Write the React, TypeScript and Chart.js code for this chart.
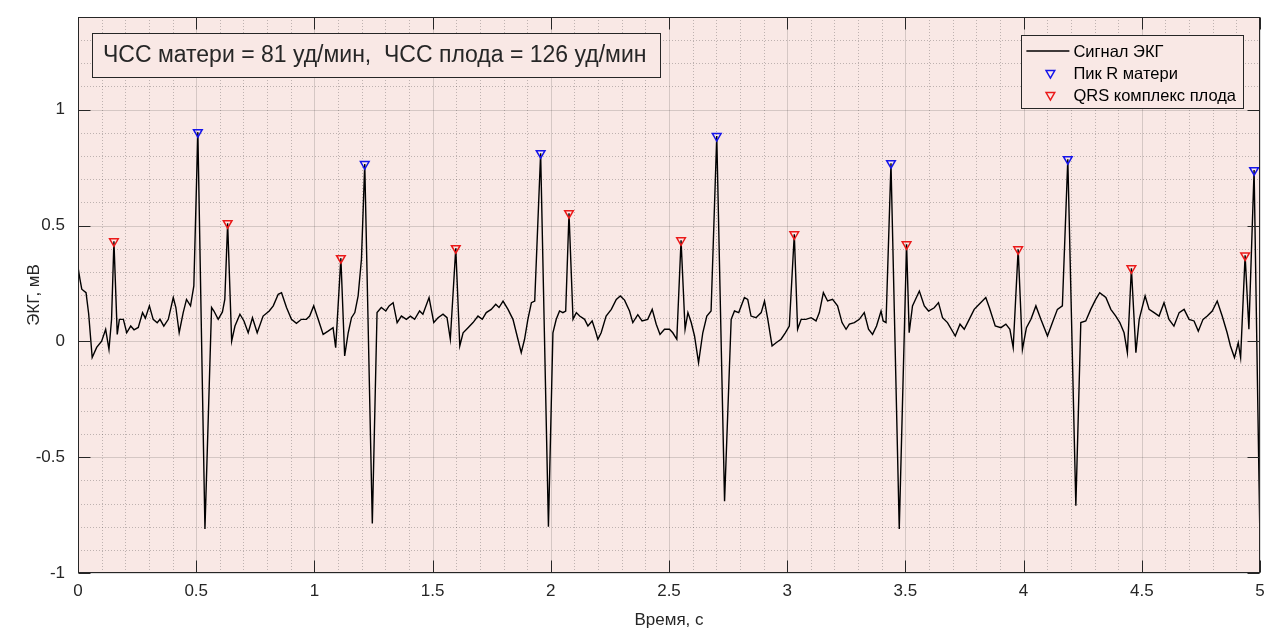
import React, { useEffect, useRef } from "react";
import { Chart, registerables } from "chart.js";

Chart.register(...registerables);

// ---------- data ----------
const timeS: number[] = [
  0.0, 0.008, 0.016, 0.034, 0.045, 0.06, 0.079, 0.1, 0.117, 0.131, 0.142, 0.152, 0.166, 0.175, 0.192,
  0.206, 0.223, 0.237, 0.255, 0.273, 0.285, 0.302, 0.318, 0.335, 0.347, 0.363, 0.382, 0.403, 0.414,
  0.428, 0.445, 0.459, 0.476, 0.49, 0.507, 0.537, 0.565, 0.575, 0.593, 0.611, 0.621, 0.633, 0.65,
  0.664, 0.685, 0.702, 0.72, 0.738, 0.758, 0.783, 0.809, 0.826, 0.847, 0.861, 0.882, 0.903, 0.924,
  0.945, 0.966, 0.98, 0.997, 1.016, 1.037, 1.058, 1.079, 1.09, 1.112, 1.128, 1.143, 1.157, 1.171,
  1.185, 1.199, 1.213, 1.245, 1.265, 1.283, 1.302, 1.316, 1.333, 1.35, 1.368, 1.389, 1.406, 1.424,
  1.445, 1.459, 1.485, 1.505, 1.523, 1.544, 1.561, 1.575, 1.598, 1.615, 1.629, 1.65, 1.671, 1.692,
  1.71, 1.727, 1.748, 1.767, 1.781, 1.798, 1.819, 1.84, 1.861, 1.875, 1.889, 1.903, 1.918, 1.932,
  1.957, 1.99, 2.009, 2.023, 2.037, 2.051, 2.063, 2.077, 2.094, 2.108, 2.122, 2.143, 2.157, 2.175,
  2.189, 2.199, 2.213, 2.234, 2.256, 2.277, 2.294, 2.312, 2.333, 2.347, 2.368, 2.386, 2.41, 2.429,
  2.446, 2.462, 2.481, 2.502, 2.516, 2.533, 2.551, 2.568, 2.58, 2.594, 2.608, 2.625, 2.643, 2.66,
  2.678, 2.702, 2.735, 2.763, 2.777, 2.795, 2.819, 2.833, 2.847, 2.868, 2.89, 2.904, 2.918, 2.936,
  2.953, 2.974, 2.992, 3.009, 3.03, 3.044, 3.059, 3.079, 3.101, 3.122, 3.136, 3.153, 3.171, 3.192,
  3.213, 3.232, 3.249, 3.263, 3.284, 3.305, 3.326, 3.344, 3.361, 3.378, 3.397, 3.406, 3.418, 3.439,
  3.474, 3.505, 3.516, 3.53, 3.559, 3.58, 3.598, 3.622, 3.64, 3.657, 3.678, 3.711, 3.731, 3.749,
  3.77, 3.791, 3.812, 3.84, 3.855, 3.88, 3.904, 3.925, 3.942, 3.956, 3.977, 3.995, 4.012, 4.031,
  4.052, 4.073, 4.101, 4.122, 4.143, 4.164, 4.187, 4.221, 4.242, 4.263, 4.284, 4.305, 4.322, 4.348,
  4.369, 4.39, 4.407, 4.425, 4.439, 4.456, 4.475, 4.489, 4.514, 4.531, 4.552, 4.573, 4.594, 4.615,
  4.636, 4.658, 4.679, 4.7, 4.721, 4.739, 4.759, 4.777, 4.798, 4.819, 4.84, 4.861, 4.875, 4.892,
  4.908, 4.918, 4.937, 4.953, 4.975, 5.0,
];

const ecgMv: number[] = [
  0.32, 0.27, 0.225, 0.21, 0.12, -0.07, -0.026, 0.001, 0.052, -0.035, 0.095, 0.432, 0.03, 0.095, 0.095,
  0.037, 0.066, 0.05, 0.06, 0.124, 0.1, 0.153, 0.095, 0.08, 0.095, 0.066, 0.095, 0.189, 0.146,
  0.037, 0.124, 0.181, 0.153, 0.239, 0.903, -0.81, 0.146, 0.131, 0.095, 0.127, 0.181, 0.51, 0.001,
  0.066, 0.117, 0.088, 0.037, 0.102, 0.037, 0.109, 0.131, 0.153, 0.203, 0.21, 0.146, 0.095, 0.078,
  0.095, 0.095, 0.109, 0.153, 0.095, 0.03, 0.044, 0.059, -0.027, 0.359, -0.063, 0.037, 0.102, 0.124,
  0.196, 0.354, 0.765, -0.786, 0.124, 0.146, 0.131, 0.153, 0.167, 0.081, 0.109, 0.095, 0.109, 0.095,
  0.131, 0.117, 0.189, 0.081, 0.102, 0.117, 0.102, 0.009, 0.402, -0.02, 0.037, 0.059, 0.081, 0.109,
  0.095, 0.124, 0.138, 0.16, 0.146, 0.174, 0.138, 0.095, 0.009, -0.049, 0.009, 0.095, 0.167, 0.174,
  0.812, -0.8, 0.037, 0.095, 0.131, 0.124, 0.131, 0.553, 0.095, 0.124, 0.109, 0.095, 0.066, 0.088,
  0.044, 0.009, 0.037, 0.109, 0.138, 0.181, 0.196, 0.178, 0.131, 0.081, 0.115, 0.088, 0.095, 0.138,
  0.074, 0.03, 0.052, 0.052, 0.037, 0.009, 0.436, 0.052, 0.124, 0.081, 0.023, -0.092, 0.037, 0.109,
  0.131, 0.886, -0.69, 0.095, 0.131, 0.124, 0.189, 0.181, 0.109, 0.102, 0.124, 0.174, 0.095, -0.02,
  -0.006, 0.009, 0.037, 0.066, 0.462, 0.052, 0.095, 0.095, 0.102, 0.088, 0.124, 0.21, 0.174, 0.181,
  0.153, 0.081, 0.052, 0.074, 0.081, 0.095, 0.124, 0.052, 0.03, 0.066, 0.131, 0.088, 0.081, 0.769,
  -0.81, 0.419, 0.037, 0.153, 0.217, 0.153, 0.131, 0.145, 0.167, 0.102, 0.081, 0.023, 0.074, 0.052,
  0.095, 0.138, 0.16, 0.189, 0.146, 0.066, 0.059, 0.074, 0.052, -0.027, 0.397, -0.035, 0.059, 0.095,
  0.153, 0.095, 0.023, 0.081, 0.138, 0.153, 0.786, -0.71, 0.081, 0.088, 0.138, 0.181, 0.21, 0.189,
  0.138, 0.109, 0.081, 0.037, -0.049, 0.315, -0.049, 0.095, 0.196, 0.138, 0.124, 0.109, 0.167, 0.095,
  0.066, 0.124, 0.138, 0.095, 0.088, 0.044, 0.095, 0.109, 0.131, 0.174, 0.109, 0.037, -0.02, -0.07,
  -0.006, -0.07, 0.371, 0.052, 0.739, -0.87,
];

const maternalPeakT: number[] = [0.507, 1.213, 1.957, 2.702, 3.439, 4.187, 4.975];
const maternalPeakV: number[] = [0.903, 0.765, 0.812, 0.886, 0.769, 0.786, 0.739];

const fetalPeakT: number[] = [0.152, 0.633, 1.112, 1.598, 2.077, 2.551, 3.03, 3.505, 3.977, 4.456, 4.937];
const fetalPeakV: number[] = [0.432, 0.51, 0.359, 0.402, 0.553, 0.436, 0.462, 0.419, 0.397, 0.315, 0.371];

const xTicks: number[] = [0, 0.5, 1, 1.5, 2, 2.5, 3, 3.5, 4, 4.5, 5];
const yTicks: number[] = [-1, -0.5, 0, 0.5, 1];
const xRange: number[] = [0, 5];
const yRange: number[] = [-1, 1.4];
const minorStep = 0.1;

const maternalHR = 81;
const fetalHR = 126;

const seriesLabels: string[] = ["Сигнал ЭКГ", "Пик R матери", "QRS комплекс плода"];
const xTitle = "Время, с";
const yTitle = "ЭКГ, мВ";

// ---------- styles ----------
const FONT = '"Liberation Sans", Arial, Helvetica, sans-serif';
const PINK = "rgb(249,232,229)";
const AXIS = "#262626";
const BLUE = "rgb(20,20,235)";
const RED = "rgb(235,25,25)";

const crisp = (v: number) => Math.round(v) + 0.5;

function downTriangle(ctx: CanvasRenderingContext2D, x: number, y: number, r: number, color: string) {
  ctx.save();
  ctx.setLineDash([]);
  ctx.strokeStyle = color;
  ctx.lineWidth = 1.5;
  ctx.beginPath();
  ctx.moveTo(x, y + r);
  ctx.lineTo(x + r * Math.sin(Math.PI / 3), y - r / 2);
  ctx.lineTo(x - r * Math.sin(Math.PI / 3), y - r / 2);
  ctx.closePath();
  ctx.stroke();
  ctx.restore();
}

const matlabPlugin = {
  id: "matlabAxes",
  beforeDraw(chart: any) {
    const { ctx, chartArea: a, scales } = chart;
    const xs = scales.x;
    const ys = scales.y;
    ctx.save();
    ctx.fillStyle = "#ffffff";
    ctx.fillRect(0, 0, chart.width, chart.height);
    ctx.fillStyle = PINK;
    ctx.fillRect(a.left, a.top, a.right - a.left, a.bottom - a.top);

    // minor dotted grid
    ctx.strokeStyle = "rgba(38,38,38,0.28)";
    ctx.lineWidth = 1;
    ctx.setLineDash([1, 2]);
    ctx.beginPath();
    const isMajor = (v: number, ticks: number[]) => ticks.some((t) => Math.abs(t - v) < 1e-6);
    for (let k = Math.ceil(xRange[0] / minorStep); k <= Math.floor(xRange[1] / minorStep); k++) {
      const v = k * minorStep;
      if (isMajor(v, xTicks)) continue;
      const px = crisp(xs.getPixelForValue(v));
      ctx.moveTo(px, a.top);
      ctx.lineTo(px, a.bottom);
    }
    for (let k = Math.ceil(yRange[0] / minorStep - 1e-9); k <= Math.floor(yRange[1] / minorStep + 1e-9); k++) {
      const v = k * minorStep;
      if (isMajor(v, yTicks)) continue;
      const py = crisp(ys.getPixelForValue(v));
      ctx.moveTo(a.left, py);
      ctx.lineTo(a.right, py);
    }
    ctx.stroke();

    // major grid
    ctx.setLineDash([]);
    ctx.strokeStyle = "rgba(38,38,38,0.17)";
    ctx.beginPath();
    xTicks.forEach((v) => {
      const px = crisp(xs.getPixelForValue(v));
      ctx.moveTo(px, a.top);
      ctx.lineTo(px, a.bottom);
    });
    yTicks.forEach((v) => {
      const py = crisp(ys.getPixelForValue(v));
      ctx.moveTo(a.left, py);
      ctx.lineTo(a.right, py);
    });
    ctx.stroke();
    ctx.restore();
  },
  afterDatasetsDraw(chart: any) {
    const { ctx, chartArea: a, scales } = chart;
    const xs = scales.x;
    const ys = scales.y;
    ctx.save();
    ctx.setLineDash([]);
    // box
    ctx.strokeStyle = AXIS;
    ctx.lineWidth = 1;
    const L = crisp(a.left), R = crisp(a.right) - 1, T = crisp(a.top), B = crisp(a.bottom) - 1;
    ctx.strokeRect(L, T, R - L, B - T);
    // inward ticks
    const tl = 12;
    ctx.beginPath();
    xTicks.forEach((v) => {
      const px = crisp(xs.getPixelForValue(v));
      ctx.moveTo(px, B);
      ctx.lineTo(px, B - tl);
      ctx.moveTo(px, T);
      ctx.lineTo(px, T + tl);
    });
    yTicks.forEach((v) => {
      const py = crisp(ys.getPixelForValue(v));
      ctx.moveTo(L, py);
      ctx.lineTo(L + tl, py);
      ctx.moveTo(R, py);
      ctx.lineTo(R - tl, py);
    });
    ctx.stroke();

    // annotation box
    const note = `ЧСС матери = ${maternalHR} уд/мин,  ЧСС плода = ${fetalHR} уд/мин`;
    ctx.font = `23px ${FONT}`;
    const noteW = ctx.measureText(note).width;
    const bx = a.left + 14, by = a.top + 16, bh = 44;
    const bw = noteW + 25;
    ctx.fillStyle = PINK;
    ctx.fillRect(bx, by, bw, bh);
    ctx.strokeStyle = AXIS;
    ctx.lineWidth = 1;
    ctx.strokeRect(crisp(bx), crisp(by), Math.round(bw), bh);
    ctx.fillStyle = AXIS;
    ctx.textBaseline = "middle";
    ctx.textAlign = "left";
    ctx.fillText(note, bx + 11, by + bh / 2 + 1);

    // legend
    ctx.font = `16.5px ${FONT}`;
    const maxW = Math.max(...seriesLabels.map((s) => ctx.measureText(s).width));
    const lw = 52 + maxW + 7;
    const lx = a.right - 17 - lw;
    const ly = a.top + 18;
    const lh = 73;
    ctx.fillStyle = PINK;
    ctx.fillRect(lx, ly, lw, lh);
    ctx.strokeStyle = AXIS;
    ctx.strokeRect(crisp(lx), crisp(ly), Math.round(lw), lh);
    const rowY = [ly + 16, ly + 38, ly + 60];
    // row 0: line
    ctx.strokeStyle = "#000";
    ctx.lineWidth = 1.4;
    ctx.beginPath();
    ctx.moveTo(lx + 5, rowY[0]);
    ctx.lineTo(lx + 48, rowY[0]);
    ctx.stroke();
    downTriangle(ctx, lx + 29, rowY[1], 5, BLUE);
    downTriangle(ctx, lx + 29, rowY[2], 5, RED);
    ctx.fillStyle = "#000";
    ctx.textBaseline = "middle";
    seriesLabels.forEach((s, i) => ctx.fillText(s, lx + 52, rowY[i] + 1));
    ctx.restore();
  },
};

export default function App() {
  const canvasRef = useRef<HTMLCanvasElement | null>(null);

  useEffect(() => {
    document.body.style.margin = "0";
    const canvas = canvasRef.current;
    if (!canvas) return;
    const tickFont = { family: FONT, size: 17 };
    const chart = new Chart(canvas, {
      type: "line",
      data: {
        datasets: [
          {
            label: seriesLabels[0],
            data: timeS.map((t, i) => ({ x: t, y: ecgMv[i] })),
            borderColor: "#000",
            borderWidth: 1.4,
            pointRadius: 0,
            tension: 0,
            fill: false,
            order: 2,
          },
          {
            label: seriesLabels[1],
            data: maternalPeakT.map((t, i) => ({ x: t, y: maternalPeakV[i] })),
            showLine: false,
            pointStyle: "triangle",
            pointRotation: 180,
            pointRadius: 5,
            pointBorderWidth: 1.5,
            pointBorderColor: BLUE,
            pointBackgroundColor: "rgba(0,0,0,0)",
            borderColor: BLUE,
            order: 1,
          },
          {
            label: seriesLabels[2],
            data: fetalPeakT.map((t, i) => ({ x: t, y: fetalPeakV[i] })),
            showLine: false,
            pointStyle: "triangle",
            pointRotation: 180,
            pointRadius: 5,
            pointBorderWidth: 1.5,
            pointBorderColor: RED,
            pointBackgroundColor: "rgba(0,0,0,0)",
            borderColor: RED,
            order: 1,
          },
        ],
      } as any,
      options: {
        animation: false,
        responsive: true,
        maintainAspectRatio: false,
        events: [],
        layout: { padding: { left: 0, right: 7, top: 17, bottom: 0 } },
        plugins: { legend: { display: false }, tooltip: { enabled: false } },
        scales: {
          x: {
            type: "linear",
            position: "bottom",
            min: xRange[0],
            max: xRange[1],
            afterBuildTicks: (s: any) => {
              s.ticks = xTicks.map((v) => ({ value: v }));
            },
            afterFit: (s: any) => {
              s.height = 59;
              s.paddingLeft = 0;
              s.paddingRight = 0;
            },
            grid: { display: false, drawTicks: false },
            border: { display: false },
            ticks: {
              font: tickFont,
              color: AXIS,
              padding: 8,
              maxRotation: 0,
              autoSkip: false,
              callback: (v: any) => String(v),
            },
            title: {
              display: true,
              text: xTitle,
              font: tickFont,
              color: AXIS,
              padding: { top: 0, bottom: 1 },
            },
          },
          y: {
            type: "linear",
            position: "left",
            min: yRange[0],
            max: yRange[1],
            afterBuildTicks: (s: any) => {
              s.ticks = yTicks.map((v) => ({ value: v }));
            },
            afterFit: (s: any) => {
              s.width = 78;
              s.paddingTop = 0;
              s.paddingBottom = 0;
            },
            grid: { display: false, drawTicks: false },
            border: { display: false },
            ticks: {
              font: tickFont,
              color: AXIS,
              padding: 13,
              autoSkip: false,
              callback: (v: any) => String(v),
            },
            title: {
              display: true,
              text: yTitle,
              font: tickFont,
              color: AXIS,
              padding: { top: 24, bottom: 0 },
            },
          },
        },
      } as any,
      plugins: [matlabPlugin],
    });
    return () => chart.destroy();
  }, []);

  return (
    <div
      style={{
        position: "fixed",
        left: 0,
        top: 0,
        width: "1267px",
        height: "632px",
        background: "#fff",
      }}
    >
      <canvas ref={canvasRef} />
    </div>
  );
}
